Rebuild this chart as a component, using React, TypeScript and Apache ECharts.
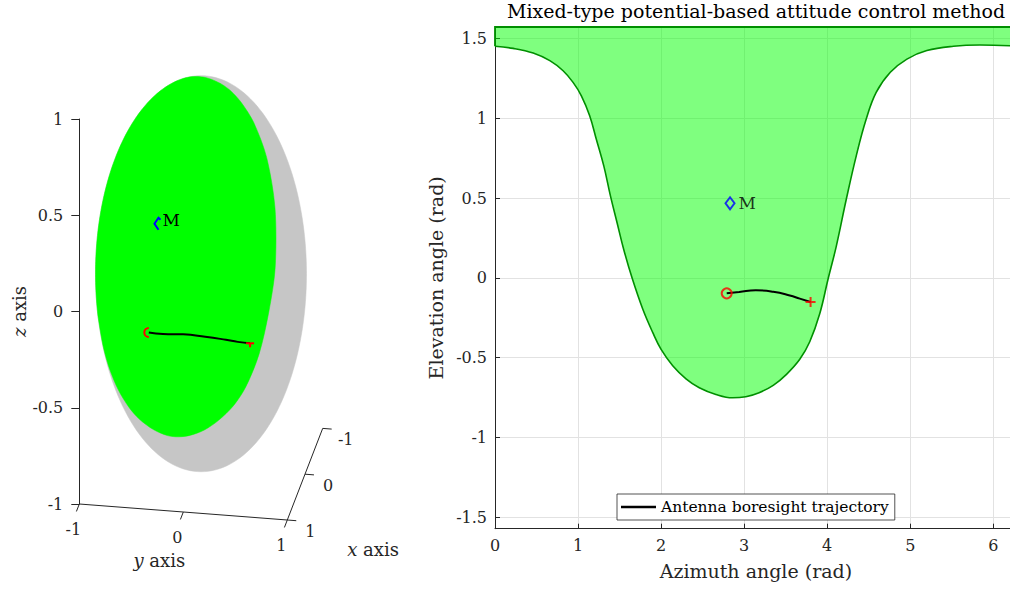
import React, { useEffect, useRef } from 'react';
import * as echarts from 'echarts';

const PI = Math.PI;
const FONT = "'DejaVu Serif', serif";

// ---------- data ----------
// Boundary of the admissible region (azimuth, elevation) in rad
const boundaryAz = [0, 0.22, 0.46, 0.66, 0.82, 0.94, 1.04, 1.14, 1.22, 1.31, 1.39, 1.47, 1.55, 1.65, 1.78, 1.9, 2.0, 2.14, 2.3, 2.46, 2.66, 2.86, 3.02, 3.18, 3.35, 3.51, 3.67, 3.79, 3.91, 4.01, 4.11, 4.23, 4.35, 4.47, 4.59, 4.76, 4.96, 5.2, 5.52, 5.84, 6.2832];
const boundaryEl = [1.45, 1.437, 1.408, 1.36, 1.297, 1.224, 1.14, 1.015, 0.868, 0.701, 0.513, 0.345, 0.178, 0.0, -0.197, -0.343, -0.448, -0.55, -0.632, -0.688, -0.73, -0.751, -0.744, -0.719, -0.673, -0.604, -0.51, -0.4, -0.225, -0.009, 0.199, 0.492, 0.764, 0.994, 1.161, 1.287, 1.37, 1.423, 1.45, 1.458, 1.452];

// Antenna boresight trajectory
const trajAz = [2.79, 2.94, 3.14, 3.35, 3.55, 3.67, 3.8];
const trajEl = [-0.097, -0.089, -0.078, -0.087, -0.11, -0.13, -0.151];

const startPoint = [2.79, -0.097];
const endPoint = [3.8, -0.151];
const pointM = [2.83, 0.467];
const labelM = 'M';

const box3dTicks = [-1, 0, 1];
const trajName = 'Antenna boresight trajectory';

// ---------- 3D view (left panel) ----------
// screen pixels per unit of x, y, z  ([right, down])
const EX = [-17.7, 45.8];
const EY = [104, 8];
const EZ = [0, -192.5];
const KX = 104;
const KZ = 192.5;

type V3 = number[];
const dot = (a: V3, b: V3) => a[0] * b[0] + a[1] * b[1] + a[2] * b[2];
const cross = (a: V3, b: V3) => [a[1] * b[2] - a[2] * b[1], a[2] * b[0] - a[0] * b[2], a[0] * b[1] - a[1] * b[0]];
const nrm = (a: V3) => {
  const l = Math.hypot(a[0], a[1], a[2]);
  return [a[0] / l, a[1] / l, a[2] / l];
};
const sph = (az: number, el: number) => {
  const c = Math.cos(el);
  return [-c * Math.cos(az), -c * Math.sin(az), Math.sin(el)];
};
const proj3 = (p: V3) => {
  const px = (p[0] - 1) * EX[0] + (p[1] + 1) * EY[0] + p[2] * EZ[0];
  const py = (p[0] - 1) * EX[1] + (p[1] + 1) * EY[1] + p[2] * EZ[1];
  return [px / KX, -py / KZ];
};
let VIEW = nrm(cross([EX[0], EY[0], EZ[0]], [EX[1], EY[1], EZ[1]]));
if (VIEW[0] < 0) VIEW = VIEW.map((v) => -v);
const E1 = nrm(cross(VIEW, [0, 0, 1]));
const E2 = cross(VIEW, E1);
const onSil = (a: number) => [0, 1, 2].map((k) => Math.cos(a) * E1[k] + Math.sin(a) * E2[k]);
const silAngle = (q: V3) => Math.atan2(dot(q, E2), dot(q, E1));

function greenOutline() {
  const pts = boundaryAz.map((a, i) => sph(a, boundaryEl[i]));
  const n = pts.length - 1; // last point repeats the first one (az = 2*pi)
  const out: number[][] = [];
  let entry: V3 | null = null;
  for (let i = 0; i < n; i++) {
    const p = pts[i];
    const q = pts[(i + 1) % n];
    const sp = dot(p, VIEW);
    const sq = dot(q, VIEW);
    if (sp >= 0) out.push(proj3(p));
    if (sp >= 0 && sq < 0) {
      const t = sp / (sp - sq);
      const c = nrm(p.map((v, k) => v + (q[k] - v) * t));
      out.push(proj3(c));
      entry = c;
    } else if (sp < 0 && sq >= 0) {
      const t = sp / (sp - sq);
      const c = nrm(p.map((v, k) => v + (q[k] - v) * t));
      if (entry) {
        const a1 = silAngle(entry);
        let da = silAngle(c) - a1;
        while (da > PI) da -= 2 * PI;
        while (da < -PI) da += 2 * PI;
        for (let k = 1; k < 60; k++) out.push(proj3(onSil(a1 + (da * k) / 60)));
      }
      out.push(proj3(c));
      entry = null;
    }
  }
  return out;
}

const axisColor = '#262626';
const edgeGreen = '#008f00';

export default function App() {
  const ref = useRef<HTMLDivElement>(null);
  useEffect(() => {
    const chart = echarts.init(ref.current as HTMLDivElement, null, { renderer: 'svg' });

    const option: any = {
      animation: false,
      backgroundColor: '#ffffff',
      textStyle: { fontFamily: FONT },
      title: {
        text: 'Mixed-type potential-based attitude control method',
        left: 756,
        top: 1,
        padding: 0,
        textAlign: 'center',
        textStyle: { fontFamily: FONT, fontSize: 19, fontWeight: 'normal', color: '#000' },
      },
      legend: {
        data: [{ name: trajName, icon: 'rect' }],
        left: 617,
        top: 494,
        padding: [5, 6, 5, 4],
        itemWidth: 35,
        itemHeight: 2.5,
        itemGap: 5,
        itemStyle: { color: '#000' },
        backgroundColor: '#ffffff',
        borderColor: axisColor,
        borderWidth: 0.8,
        borderRadius: 0,
        textStyle: { fontFamily: FONT, fontSize: 15.5, color: '#000' },
      },
      grid: [
        { left: 495, top: 27, width: 521.8, height: 501.7, outerBoundsMode: 'none', containLabel: false },
        { left: 79.3, top: 119, width: 332.8, height: 385, outerBoundsMode: 'none', containLabel: false },
      ],
      xAxis: [
        {
          gridIndex: 0,
          type: 'value',
          min: 0,
          max: 2 * PI,
          interval: 1,
          name: 'Azimuth angle (rad)',
          nameLocation: 'middle',
          nameGap: 33,
          nameTextStyle: { fontFamily: FONT, fontSize: 19, color: axisColor },
          axisLine: { show: true, onZero: false, lineStyle: { color: axisColor, width: 1 } },
          axisTick: { show: true, inside: true, length: 5, lineStyle: { color: axisColor } },
          axisLabel: {
            margin: 9,
            fontFamily: FONT,
            fontSize: 16,
            color: axisColor,
            formatter: (v: number) => (Math.abs(v - Math.round(v)) < 1e-6 ? String(Math.round(v)) : ''),
          },
          splitLine: { show: true, lineStyle: { color: '#e2e2e2', width: 1 } },
        },
        { gridIndex: 1, type: 'value', min: 0, max: 3.2, show: false },
      ],
      yAxis: [
        {
          gridIndex: 0,
          type: 'value',
          min: -PI / 2,
          max: PI / 2,
          minInterval: 0.5,
          maxInterval: 0.5,
          name: 'Elevation angle (rad)',
          nameLocation: 'middle',
          nameGap: 40,
          nameTextStyle: { fontFamily: FONT, fontSize: 19, color: axisColor },
          axisLine: { show: true, onZero: false, lineStyle: { color: axisColor, width: 1 } },
          axisTick: { show: true, inside: true, length: 5, lineStyle: { color: axisColor } },
          axisLabel: {
            margin: 8,
            fontFamily: FONT,
            fontSize: 16,
            color: axisColor,
            formatter: (v: number) => (Math.abs(v * 2 - Math.round(v * 2)) < 1e-6 ? String(Math.round(v * 2) / 2) : ''),
          },
          splitLine: { show: true, lineStyle: { color: '#e2e2e2', width: 1 } },
        },
        {
          gridIndex: 1,
          type: 'value',
          min: -1,
          max: 1,
          interval: 0.5,
          name: '{i|z} axis',
          nameLocation: 'middle',
          nameGap: 46,
          nameTextStyle: {
            fontFamily: FONT,
            fontSize: 18,
            color: axisColor,
            rich: { i: { fontStyle: 'italic', fontFamily: FONT, fontSize: 18, color: axisColor } },
          },
          axisLine: { show: true, onZero: false, lineStyle: { color: axisColor, width: 1 } },
          axisTick: { show: true, inside: false, length: 8, lineStyle: { color: axisColor } },
          axisLabel: { margin: 16, fontFamily: FONT, fontSize: 16, color: axisColor },
          splitLine: { show: false },
        },
      ],
      series: [
        // ---- right panel ----
        {
          type: 'line',
          name: 'region',
          xAxisIndex: 0,
          yAxisIndex: 0,
          data: boundaryAz.map((a, i) => [a, boundaryEl[i]]),
          smooth: 0.4,
          symbol: 'none',
          showSymbol: false,
          silent: true,
          lineStyle: { color: edgeGreen, width: 1.6 },
          areaStyle: { origin: 'end', color: 'rgba(0,255,0,0.5)', opacity: 1 },
          z: 1,
        },
        {
          type: 'custom',
          name: 'regionEdge',
          xAxisIndex: 0,
          yAxisIndex: 0,
          clip: false,
          silent: true,
          data: [[0, 0]],
          renderItem: (_p: any, api: any) => {
            const a = api.coord([boundaryAz[0], boundaryEl[0]]);
            const b = api.coord([boundaryAz[0], PI / 2]);
            const c = api.coord([boundaryAz[boundaryAz.length - 1], PI / 2]);
            return {
              type: 'polyline',
              shape: { points: [a, b, c] },
              style: { stroke: edgeGreen, lineWidth: 1.8, fill: 'none' },
            };
          },
          z: 2,
        },
        {
          type: 'line',
          name: trajName,
          xAxisIndex: 0,
          yAxisIndex: 0,
          data: trajAz.map((a, i) => [a, trajEl[i]]),
          smooth: true,
          symbol: 'none',
          showSymbol: false,
          lineStyle: { color: '#000', width: 2 },
          itemStyle: { color: '#000' },
          z: 3,
        },
        {
          type: 'scatter',
          name: 'start',
          xAxisIndex: 0,
          yAxisIndex: 0,
          data: [startPoint],
          symbol: 'circle',
          symbolSize: 10,
          itemStyle: { color: 'transparent', borderColor: '#ff0000', borderWidth: 2 },
          z: 4,
        },
        {
          type: 'scatter',
          name: 'end',
          xAxisIndex: 0,
          yAxisIndex: 0,
          data: [endPoint],
          symbol: 'path://M0,5H10M5,0V10',
          symbolSize: 10,
          itemStyle: { color: 'transparent', borderColor: '#ff0000', borderWidth: 2 },
          z: 4,
        },
        {
          type: 'scatter',
          name: 'M',
          xAxisIndex: 0,
          yAxisIndex: 0,
          data: [pointM],
          symbol: 'diamond',
          symbolSize: [9, 12],
          itemStyle: { color: 'transparent', borderColor: '#0000ff', borderWidth: 2 },
          label: { show: true, formatter: labelM, position: 'right', distance: 3, fontFamily: FONT, fontSize: 17, color: '#000' },
          z: 4,
        },
        // ---- left panel (3D view) ----
        {
          type: 'custom',
          name: 'sphere',
          xAxisIndex: 1,
          yAxisIndex: 1,
          clip: false,
          silent: true,
          data: [[0, 0]],
          renderItem: (_p: any, api: any) => {
            const sil: number[][] = [];
            for (let k = 0; k < 180; k++) sil.push(api.coord(proj3(onSil((2 * PI * k) / 180))));
            const green = greenOutline().map((pt) => api.coord(pt));
            return {
              type: 'group',
              children: [
                { type: 'polygon', shape: { points: sil }, style: { fill: '#c6c6c6', stroke: '#c6c6c6', lineWidth: 0.5 } },
                { type: 'polygon', shape: { points: green, smooth: 0.3 }, style: { fill: '#00ff00', stroke: '#00ff00', lineWidth: 0.5 } },
              ],
            };
          },
          z: 1,
        },
        {
          type: 'line',
          name: 'traj3d',
          xAxisIndex: 1,
          yAxisIndex: 1,
          data: trajAz.map((a, i) => proj3(sph(a, trajEl[i]))),
          smooth: true,
          symbol: 'none',
          showSymbol: false,
          lineStyle: { color: '#000', width: 2 },
          z: 3,
        },
        {
          type: 'custom',
          name: 'markers3d',
          xAxisIndex: 1,
          yAxisIndex: 1,
          clip: false,
          silent: true,
          data: [[0, 0]],
          renderItem: (_p: any, api: any) => {
            const s = api.coord(proj3(sph(startPoint[0], startPoint[1])));
            const e = api.coord(proj3(sph(endPoint[0], endPoint[1])));
            const m = api.coord(proj3(sph(pointM[0], pointM[1])));
            return {
              type: 'group',
              children: [
                {
                  type: 'arc',
                  shape: { cx: s[0], cy: s[1], r: 4.5, startAngle: PI / 2, endAngle: (3 * PI) / 2, clockwise: true },
                  style: { stroke: '#ff0000', lineWidth: 2, fill: 'none' },
                },
                { type: 'line', shape: { x1: e[0] - 4, y1: e[1], x2: e[0] + 4, y2: e[1] }, style: { stroke: '#ff0000', lineWidth: 2 } },
                { type: 'line', shape: { x1: e[0], y1: e[1], x2: e[0], y2: e[1] + 4 }, style: { stroke: '#ff0000', lineWidth: 2 } },
                {
                  type: 'polyline',
                  shape: { points: [[m[0] + 3, m[1] - 4], [m[0] + 1, m[1] - 6], [m[0] - 3, m[1]], [m[0] + 1, m[1] + 6]] },
                  style: { stroke: '#0000ff', lineWidth: 2, fill: 'none' },
                },
                {
                  type: 'text',
                  x: m[0] + 5,
                  y: m[1] - 4,
                  style: { text: labelM, fill: '#000', fontFamily: FONT, fontSize: 17, align: 'left', verticalAlign: 'middle' },
                },
              ],
            };
          },
          z: 4,
        },
        {
          type: 'custom',
          name: 'axes3d',
          xAxisIndex: 1,
          yAxisIndex: 1,
          clip: false,
          silent: true,
          data: [[0, 0]],
          renderItem: (_p: any, api: any) => {
            const pt = (x: number, y: number, z: number) => api.coord(proj3([x, y, z]));
            const lineEl = (a: number[], b: number[]) => ({
              type: 'line',
              shape: { x1: a[0], y1: a[1], x2: b[0], y2: b[1] },
              style: { stroke: axisColor, lineWidth: 1 },
            });
            const textEl = (x: number, y: number, text: string, size = 16) => ({
              type: 'text',
              x,
              y,
              style: {
                text,
                fill: axisColor,
                fontFamily: FONT,
                fontSize: size,
                align: 'center',
                verticalAlign: 'middle',
                rich: { i: { fontStyle: 'italic', fontFamily: FONT, fontSize: size, fill: axisColor } },
              },
            });
            const lx = Math.hypot(EX[0], EX[1]);
            const ly = Math.hypot(EY[0], EY[1]);
            const children: any[] = [];
            children.push(lineEl(pt(1, -1, -1), pt(1, 1, -1)));
            children.push(lineEl(pt(1, 1, -1), pt(-1, 1, -1)));
            box3dTicks.forEach((t) => {
              const a = pt(1, t, -1);
              children.push(lineEl(a, [a[0] + (EX[0] / lx) * 8, a[1] + (EX[1] / lx) * 8]));
              children.push(textEl(a[0] - 6, a[1] + 25, String(t)));
              const b = pt(t, 1, -1);
              children.push(lineEl(b, [b[0] + (EY[0] / ly) * 9, b[1] + (EY[1] / ly) * 9]));
              children.push(textEl(b[0] + 23, b[1] + 11, String(t)));
            });
            const yc = pt(1, 0, -1);
            children.push(textEl(yc[0] - 24, yc[1] + 48, '{i|y} axis', 18));
            const xc = pt(0, 1, -1);
            children.push(textEl(xc[0] + 68, xc[1] + 75, '{i|x} axis', 18));
            return { type: 'group', children };
          },
          z: 5,
        },
      ],
    };

    chart.setOption(option);
    return () => chart.dispose();
  }, []);

  return (
    <div
      ref={ref}
      style={{ position: 'absolute', left: 0, top: 0, width: 1010, height: 592, background: '#ffffff' }}
    />
  );
}
